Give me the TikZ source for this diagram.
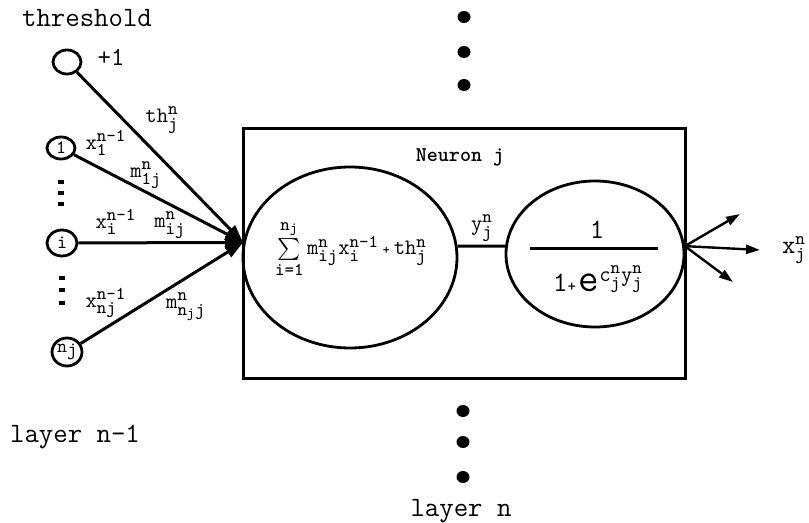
\documentclass[tikz,border=0pt]{standalone}
\usepackage{amsmath}
\renewcommand{\familydefault}{\ttdefault}
\DeclareMathSizes{11}{11}{9}{7}
\usetikzlibrary{shapes.geometric,arrows.meta}
\newcommand{\tx}[1]{\text{#1}}
\newcommand{\fs}[1]{\fontsize{#1}{#1}\selectfont}

\begin{document}
\begin{tikzpicture}[x=0.5pt,y=-0.5pt,
  unit/.style={draw,ellipse,line width=1.4pt,inner sep=0pt},
  lbl/.style={inner sep=0pt,font=\fs{11}},
  wt/.style={line width=1.5pt,-{Triangle[length=9pt,width=6pt]}},
  outarr/.style={line width=1.2pt,-{Triangle[length=7pt,width=4.5pt]}},
  bigdot/.style={fill,ellipse,inner sep=0pt,minimum width=6.5pt,minimum height=6pt},
  smalldot/.style={fill,rectangle,inner sep=0pt,minimum width=2.6pt,minimum height=2.2pt}]
\useasboundingbox (0,0) rectangle (809,523);

% layer n-1
\node[font=\fs{14}] (thtitle) at (87,18) {threshold};
\node[unit,minimum width=14pt,minimum height=12pt] (th) at (67,62) {};
\node[font=\fs{13}] (plus) at (111,57) {+1};
\node[unit,minimum width=14pt,minimum height=11pt,font=\fs{9.5}] (n1) at (61,148) {1};
\node[unit,minimum width=15pt,minimum height=13pt,font=\fs{9.5}] (ni) at (62,243) {i};
\node[unit,minimum width=15pt,minimum height=14pt,font=\fs{9.5}] (nnj) at (67,352) {n\raisebox{-0.4ex}{j}};
\foreach \y [count=\k] in {182,193,204} \node[smalldot] (da\k) at (61,\y) {};
\foreach \y [count=\k] in {278,290,303} \node[smalldot] (db\k) at (62,\y) {};
\node[font=\fs{14}] (lower) at (75,437) {layer n-1};

% neuron j
\node[draw,line width=1.5pt,inner sep=0pt,minimum width=221pt,minimum height=125pt] (box) at (464,254) {};
\node[font=\bfseries\fs{10.5}] (title) at (460,157) {Neuron j};
\node[unit,minimum width=107pt,minimum height=90.5pt] (sumE) at (350,257.5) {};
\node[unit,minimum width=89pt,minimum height=73pt] (actE) at (595,254) {};
\node[lbl] (sumtxt) at (351,249) {$\sum\limits_{\tx{i=1}}^{\tx{n}_{\tx{j}}}\tx{m}^{\tx{n}}_{\tx{ij}}\tx{x}^{\tx{n-1}}_{\tx{i}}\,\tx{\fs{7}+}\,\tx{th}^{\tx{n}}_{\tx{j}}$};
\draw[line width=1.5pt] (sumE.6) -- (actE.175);
\node[lbl] (ylbl) at (482,228) {$\tx{y}^{\tx{n}}_{\tx{j}}$};
\node[font=\fs{14}] (num) at (597,230) {1};
\node[fill,inner sep=0pt,minimum width=64pt,minimum height=1.5pt] (bar) at (594,249) {};
\node[inner sep=0pt] (den) at (598,279) {{\fs{14}1}{\fs{8}+\,}{\fs{20}e}\raisebox{1.2ex}{\fs{11}$\tx{c}^{\tx{n}}_{\tx{j}}\tx{y}^{\tx{n}}_{\tx{j}}$}};

% weights into neuron j
\coordinate (tip) at (sumE.172);
\draw[wt] (th) -- (tip);
\draw[wt] (n1) -- (tip);
\draw[wt] (ni) -- (tip);
\draw[wt] (nnj) -- (tip);
\node[lbl] (wth) at (162,120) {$\tx{th}^{\tx{n}}_{\tx{j}}$};
\node[lbl] (x1) at (106,143) {$\tx{x}^{\tx{n-1}}_{\tx{1}}$};
\node[lbl] (m1) at (146,175) {$\tx{m}^{\tx{n}}_{\tx{1j}}$};
\node[lbl] (xi) at (116,222) {$\tx{x}^{\tx{n-1}}_{\tx{i}}$};
\node[lbl] (mi) at (170,225) {$\tx{m}^{\tx{n}}_{\tx{ij}}$};
\node[lbl] (xnj) at (106,303) {$\tx{x}^{\tx{n-1}}_{\tx{nj}}$};
\node[lbl] (mnj) at (186,307) {$\tx{m}^{\tx{n}}_{\tx{n}_{\tx{j}}\tx{j}}$};

% output
\coordinate (out) at (actE.5);
\coordinate (o1) at (740,214);
\coordinate (o2) at (760,250);
\coordinate (o3) at (733,282);
\draw[outarr] (out) -- (o1);
\draw[outarr] (out) -- (o2);
\draw[outarr] (out) -- (o3);
\node[lbl,font=\fs{13}] (xout) at (794,250) {$\tx{x}^{\tx{n}}_{\tx{j}}$};

% layer n
\foreach \y [count=\k] in {17,52,85} \node[bigdot] (ta\k) at (464,\y) {};
\foreach \y [count=\k] in {411,442,477} \node[bigdot] (tb\k) at (463,\y) {};
\node[font=\fs{14}] (upper) at (461,511) {layer n};
\end{tikzpicture}
\end{document}
